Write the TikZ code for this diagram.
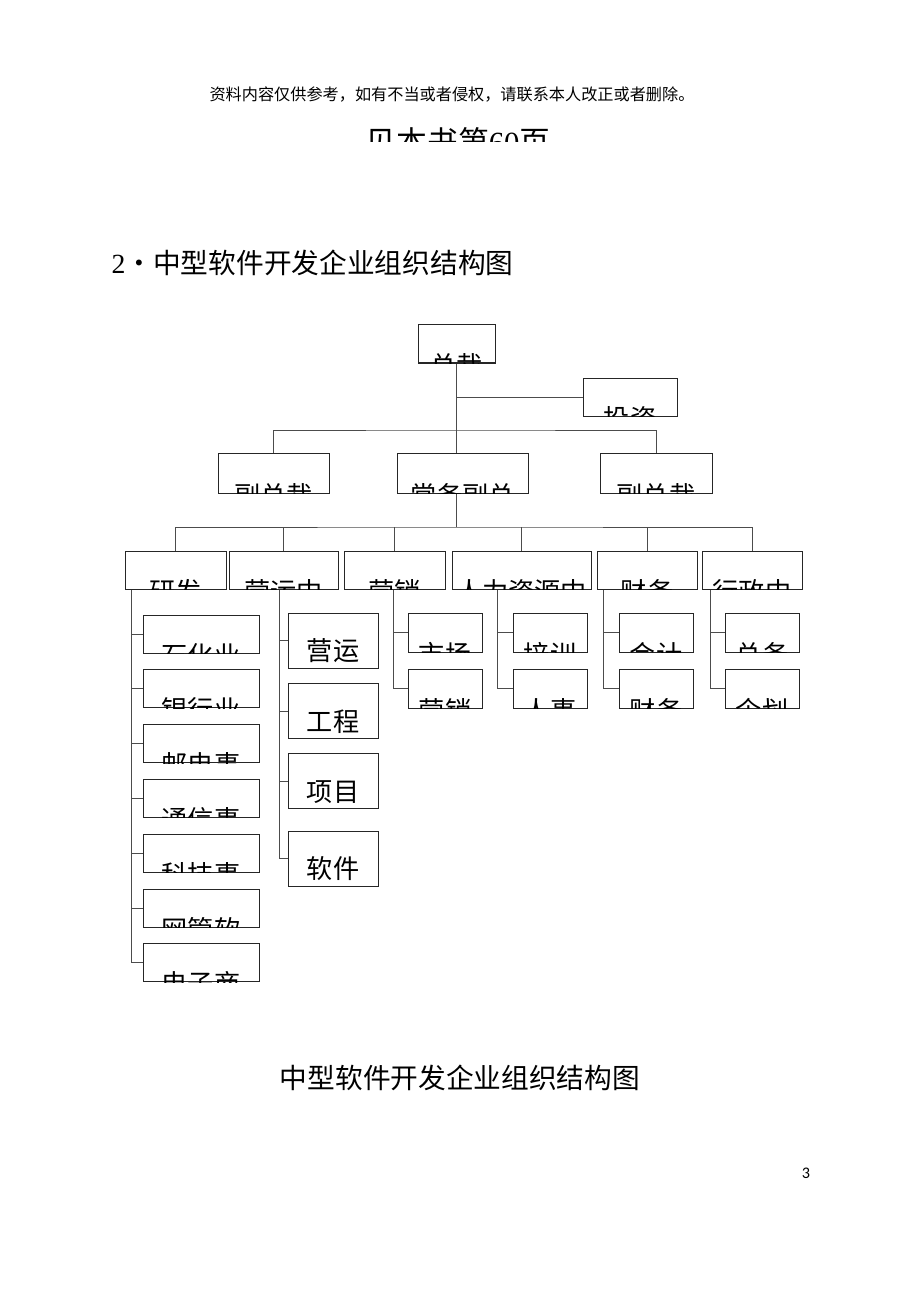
\documentclass[tikz,border=0pt]{standalone}
\usepackage{fontspec}
\setmainfont{Noto Sans CJK SC}
\newfontfamily\latinfont{Liberation Serif}
\newfontfamily\pagefont{Carlito}
\def\pxu{0.6496pt}

% label set low in its box, cut off by the box edge
\newcommand{\cutlabel}[2]{%
  \begin{scope}
    \clip (#1.south west) rectangle (#1.north east);
    \node[lbl,anchor=base] (#1-l) at ([yshift=-11.5*\pxu]#1.south) {#2};
  \end{scope}}

\begin{document}
\begin{tikzpicture}[x=\pxu,y=-\pxu,line width=0.65pt]
    \tikzstyle{unit}=[draw=black!85,fill=white,inner sep=0pt]
    \tikzset{wh/.style 2 args={minimum width=#1*\pxu,minimum height=#2*\pxu}}
    \tikzstyle{lbl}=[inner sep=0pt,font=\fontsize{17}{17}\selectfont]
    \tikzstyle{link}=[draw=black!70]

    \useasboundingbox (0,0) rectangle (920,1299);
    \fill[white] (0,0) rectangle (920,1299);

    % Page text
    \node[anchor=base,font=\fontsize{10.5}{12}\selectfont] (note) at (452,101) {资料内容仅供参考，如有不当或者侵权，请联系本人改正或者删除。};
    \begin{scope}
        \clip (300,110) rectangle (620,142);
        \node[anchor=base,font=\fontsize{20}{20}\selectfont] (seepage) at (458,154) {见本书第{\latinfont 60}页};
    \end{scope}
    \node[anchor=base west,font=\fontsize{18}{18}\selectfont] (title) at (106,274) {{\latinfont 2}・中型软件开发企业组织结构图};
    \node[anchor=base,font=\fontsize{18}{18}\selectfont] (caption) at (460,1088) {中型软件开发企业组织结构图};
    \node[anchor=base,font=\pagefont\fontsize{10.5}{12}\selectfont] (pageno) at (806,1178) {3};

    % Draw the top of the chart
    \node[unit,wh={77}{38}] (zc) at (456.5,344) {};
    \node[unit,wh={94}{38}] (tz) at (630,397) {};
    \node[unit,wh={111}{40}] (fl) at (273.5,473) {};
    \node[unit,wh={131}{40}] (cw) at (462.5,473) {};
    \node[unit,wh={112}{40}] (fr) at (656,473) {};
    \cutlabel{zc}{总裁}
    \cutlabel{tz}{投资}
    \cutlabel{fl}{副总裁}
    \cutlabel{cw}{常务副总}
    \cutlabel{fr}{副总裁}

    % Draw the departments
    \foreach \name/\x/\w/\t in {yf/175.5/101/研发, yy/283.5/109/营运中, yx/394.5/101/营销,
        rl/521.5/139/人力资源中, cwu/647/100/财务, xz/752/100/行政中}{
        \node[unit,wh={\w}{38}] (\name) at (\x,570) {};
        \cutlabel{\name}{\t}
    }

    % Connect the top boxes and the departments
    \coordinate (hub2) at (456.5,430);
    \coordinate (hub3) at (456.5,527);
    \draw[link] (zc.south) -- (zc.south |- cw.north);
    \draw[link] (zc.south |- tz.west) -- (tz.west);
    \draw[link] (fl.north) |- (hub2) -| (fr.north);
    \draw[link] (zc.south |- cw.south) -- (hub3);
    \draw[link] (yf.north) |- (hub3) -| (xz.north);
    \foreach \name in {yy,yx,rl,cwu}
        \draw[link] (\name.north) -- (\name.north |- hub3);

    % Units under the research department
    \coordinate (yf-sp) at ([xshift=7*\pxu]yf.south west);
    \foreach \i/\t in {1/石化业,2/银行业,3/邮电事,4/通信事,5/科技事,6/网管软,7/电子商}{
        \node[unit,wh={116}{38}] (yf-\i) at (201,{634+54.8*(\i-1)}) {};
        \cutlabel{yf-\i}{\t}
        \draw[link] (yf-\i.west) -- (yf-sp |- yf-\i.west);
    }
    \draw[link] (yf-sp) -- (yf-sp |- yf-7.west);

    % Units under the operations centre
    \coordinate (yy-sp) at ([xshift=-4.5*\pxu]yy.south);
    \foreach \i/\y/\t in {1/640.5/营运,2/711/工程,3/781/项目,4/858.5/软件}{
        \node[unit,wh={90}{55}] (yy-\i) at (333,\y) {};
        \node[lbl,anchor=base] (yy-\i-l) at ([yshift=-20*\pxu]yy-\i.center) {\t};
        \draw[link] (yy-\i.west) -- (yy-sp |- yy-\i.west);
    }
    \draw[link] (yy-sp) -- (yy-sp |- yy-4.west);

    % Two units under each of the other departments
    \foreach \name/\sx/\cx/\ta/\tb in {yx/50/445/市场/营销, rl/46/550/培训/人事,
        cwu/7/656/会计/财务, xz/9/762/总务/企划}{
        \coordinate (\name-sp) at ([xshift=\sx*\pxu]\name.south west);
        \node[unit,wh={74}{39}] (\name-1) at (\cx,632.5) {};
        \node[unit,wh={74}{39}] (\name-2) at (\cx,688.5) {};
        \cutlabel{\name-1}{\ta}
        \cutlabel{\name-2}{\tb}
        \draw[link] (\name-sp) |- (\name-2.west);
        \draw[link] (\name-1.west) -- (\name-sp |- \name-1.west);
    }
\end{tikzpicture}
\end{document}
